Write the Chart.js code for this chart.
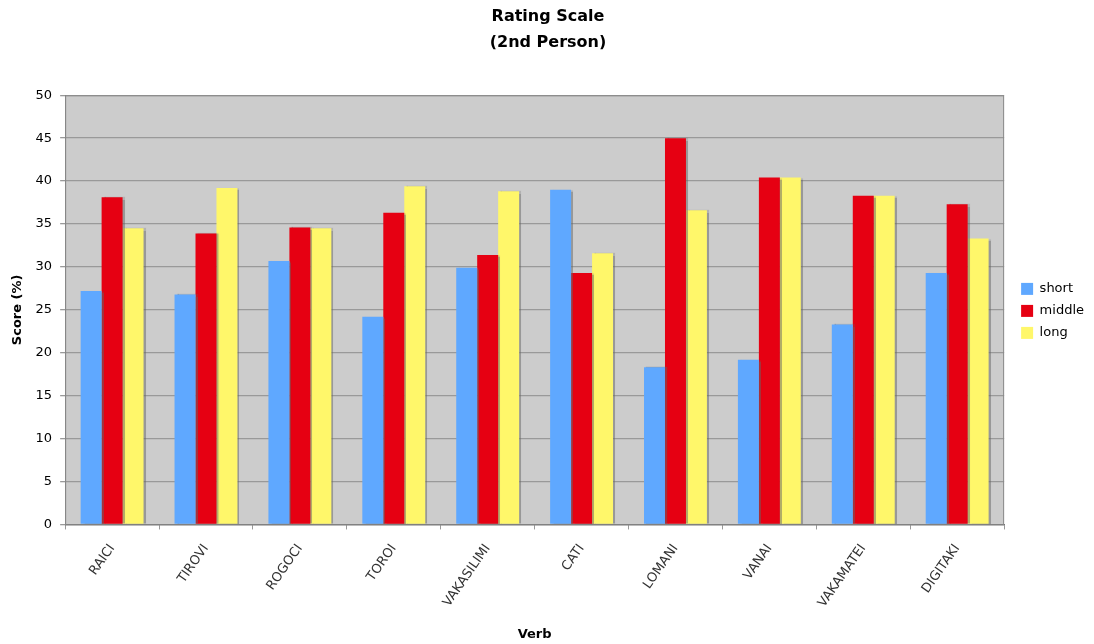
<!DOCTYPE html>
<html>
<head>
<meta charset="utf-8">
<script src="https://cdn.jsdelivr.net/npm/chart.js@4"></script>
<style>
  body { margin: 0; background: #fff; }
  #wrap { width: 1094px; height: 644px; }
</style>
</head>
<body>
<div id="wrap"><canvas id="chart"></canvas></div>
<script>
const verbs = ['RAICI', 'TIROVI', 'ROGOCI', 'TOROI', 'VAKASILIMI', 'CATI', 'LOMANI', 'VANAI', 'VAKAMATEI', 'DIGITAKI'];
const shortScores = [27.2, 26.8, 30.7, 24.2, 29.9, 39.0, 18.3, 19.2, 23.3, 29.3];
const middleScores = [38.1, 33.9, 34.6, 36.3, 31.4, 29.3, 45.0, 40.4, 38.3, 37.3];
const longScores = [34.5, 39.2, 34.5, 39.4, 38.8, 31.6, 36.6, 40.4, 38.3, 33.3];

const fontFamily = 'Verdana, "DejaVu Sans", sans-serif';

// grey plot background + bar shadows
const plotBg = {
    id: 'plotBg',
    beforeDraw(chart) {
        const { ctx, chartArea: a } = chart;
        ctx.save();
        ctx.fillStyle = '#cccccc';
        ctx.fillRect(a.left, a.top, a.right - a.left, a.bottom - a.top);
        ctx.restore();
    },
    beforeDatasetsDraw(chart) {
        const ctx = chart.ctx;
        ctx.save();
        ctx.shadowColor = 'rgba(100,100,100,0.5)';
        ctx.shadowOffsetX = 2;
        ctx.shadowOffsetY = 0;
        ctx.shadowBlur = 1;
    },
    afterDatasetsDraw(chart) {
        chart.ctx.restore();
    },
    afterDraw(chart) {
        const { ctx, chartArea: a } = chart;
        ctx.save();
        ctx.strokeStyle = '#8a8a8a';
        ctx.lineWidth = 1;
        ctx.strokeRect(a.left + 0.5, a.top + 0.5, a.right - a.left - 1, a.bottom - a.top);
        ctx.restore();
    }
};

new Chart(document.getElementById('chart'), {
    type: 'bar',
    data: {
        labels: verbs,
        datasets: [
            { label: 'short', data: shortScores, backgroundColor: '#5fa8ff' },
            { label: 'middle', data: middleScores, backgroundColor: '#e60012' },
            { label: 'long', data: longScores, backgroundColor: '#fff76a' }
        ]
    },
    options: {
        responsive: true,
        maintainAspectRatio: false,
        animation: false,
        datasets: { bar: { categoryPercentage: 0.67, barPercentage: 1.0, borderWidth: 0 } },
        layout: { padding: { left: 2, right: 0, top: 4, bottom: 2 } },
        plugins: {
            title: {
                display: true,
                text: ['Rating Scale', '(2nd Person)'],
                color: '#000',
                font: { family: fontFamily, size: 16, weight: 'bold', lineHeight: 1.6 },
                padding: { top: 0, bottom: 40 }
            },
            legend: {
                position: 'right',
                align: 'start',
                // blank title only pushes the items down to the middle of the plot
                title: { display: true, text: ' ', font: { size: 12 }, padding: { top: 0, bottom: 255 } },
                labels: {
                    color: '#000',
                    font: { family: fontFamily, size: 13 },
                    boxWidth: 12,
                    boxHeight: 12,
                    padding: 9
                }
            },
            tooltip: { enabled: false }
        },
        scales: {
            x: {
                grid: { display: true, offset: true, drawOnChartArea: false, color: '#999', tickLength: 5 },
                border: { color: '#777' },
                ticks: {
                    color: '#333',
                    font: { family: fontFamily, size: 13 },
                    maxRotation: 55,
                    minRotation: 55,
                    padding: 12
                },
                title: {
                    display: true,
                    text: 'Verb',
                    color: '#000',
                    font: { family: fontFamily, size: 13, weight: 'bold' },
                    padding: { top: 4, bottom: 0 }
                }
            },
            y: {
                min: 0,
                max: 50,
                ticks: {
                    stepSize: 5,
                    color: '#000',
                    font: { family: fontFamily, size: 13 },
                    padding: 8
                },
                grid: { color: '#999999', lineWidth: 1.3, tickLength: 5 },
                border: { color: '#777' },
                title: {
                    display: true,
                    text: 'Score (%)',
                    color: '#000',
                    font: { family: fontFamily, size: 13, weight: 'bold' },
                    padding: { top: 8, bottom: 2 }
                }
            },
            // empty spacer between the plot and the legend
            spacer: {
                type: 'linear',
                position: 'right',
                display: true,
                ticks: { display: false },
                grid: { display: false },
                border: { display: false },
                afterFit(scale) { scale.width = 8; }
            }
        }
    },
    plugins: [plotBg]
});
</script>
</body>
</html>
